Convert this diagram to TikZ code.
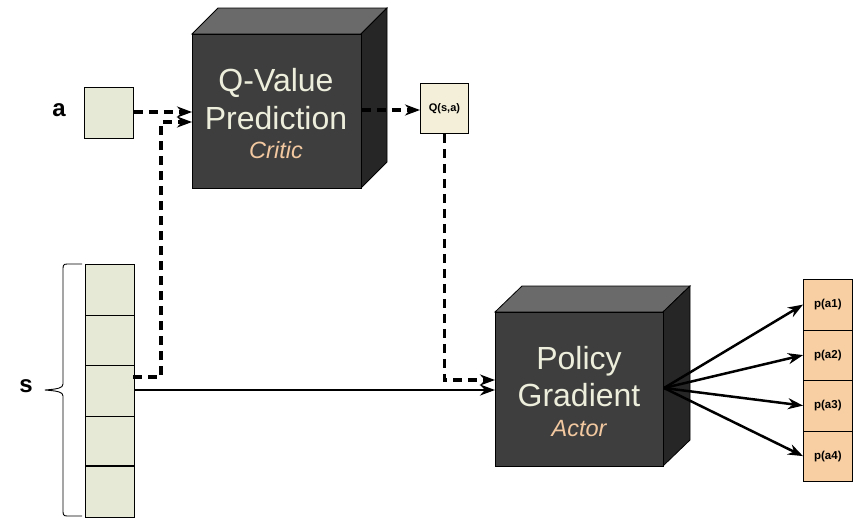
\documentclass[tikz,border=0pt]{standalone}
\usepackage{fontspec}
\setmainfont{Liberation Sans}
\usetikzlibrary{arrows.meta}
\definecolor{cubefront}{HTML}{3E3E3E}
\definecolor{cubetop}{HTML}{6A6A6A}
\definecolor{cubeside}{HTML}{262626}
\definecolor{cubetext}{HTML}{EEEEDC}
\definecolor{roletext}{HTML}{F2C8A0}
\definecolor{cellfill}{HTML}{E5E9D6}
\definecolor{qfill}{HTML}{F4EFD9}
\definecolor{pfill}{HTML}{F8CFA2}
\tikzset{
  cell/.style={draw=black, line width=0.9pt, fill=cellfill, minimum width=49pt, minimum height=50.5pt, inner sep=0pt, anchor=north west},
  pcell/.style={draw=black, line width=0.7pt, fill=pfill, minimum width=49pt, minimum height=50.5pt, inner sep=0pt, anchor=north west, font=\bfseries\fontsize{11.5}{12}\selectfont},
  qbox/.style={draw=black, line width=0.9pt, fill=qfill, minimum width=48pt, minimum height=50pt, inner sep=0pt, anchor=north west, font=\bfseries\fontsize{11}{12}\selectfont},
  cubefacefront/.style={fill=cubefront, draw=black, line width=0.8pt},
  cubefacetop/.style={fill=cubetop, draw=black, line width=0.8pt},
  cubefaceside/.style={fill=cubeside, draw=black, line width=0.8pt},
  bigtext/.style={text=cubetext, font=\fontsize{32}{38}\selectfont, align=center},
  roletxt/.style={text=roletext, font=\itshape\fontsize{23.5}{26}\selectfont},
  dasharrow/.style={line width=3.2pt, dash pattern=on 9pt off 6pt, -{Stealth[length=15pt,width=11pt]}},
  solidarrow/.style={line width=2.5pt, -{Stealth[length=15pt,width=11pt]}},
  lbl/.style={font=\bfseries\fontsize{24}{26}\selectfont}
}
\begin{document}
\begin{tikzpicture}[x=1pt,y=-1pt]
\useasboundingbox (0,0) rectangle (862,528);

% ---- Q-Value cube
\path[cubefacetop] (192,34) -- (218,8) -- (387,8) -- (361,34) -- cycle;
\path[cubefaceside] (361,34) -- (387,8) -- (387,162) -- (361,188) -- cycle;
\node[cubefacefront, minimum width=169pt, minimum height=154pt, inner sep=0pt, anchor=north west] (qcube) at (192,34) {};
\node[bigtext, anchor=base] (qtitle1) at (276,91) {Q-Value};
\node[bigtext, anchor=base] (qtitle2) at (276,129) {Prediction};
\node[roletxt, anchor=base] (qrole) at (276,158) {Critic};

% ---- Policy cube
\path[cubefacetop] (495,312) -- (522,286) -- (690,286) -- (663,312) -- cycle;
\path[cubefaceside] (663,312) -- (690,286) -- (690,440) -- (663,466) -- cycle;
\node[cubefacefront, minimum width=168pt, minimum height=154pt, inner sep=0pt, anchor=north west] (pcube) at (495,312) {};
\node[bigtext, anchor=base] (ptitle1) at (579,369) {Policy};
\node[bigtext, anchor=base] (ptitle2) at (579,406) {Gradient};
\node[roletxt, anchor=base] (prole) at (579,436) {Actor};

% ---- a input
\node[lbl] (alabel) at (59,110) {a};
\node[cell, minimum height=51pt] (abox) at (84,87) {};

% ---- Q(s,a)
\node[qbox] (qsa) at (420,83) {Q(s,a)};

% ---- state column
\node[cell] (s1) at (85,264) {};
\node[cell] (s2) at (85,314.5) {};
\node[cell] (s3) at (85,365) {};
\node[cell] (s4) at (85,415.5) {};
\node[cell] (s5) at (85,466) {};
\draw[line width=1.6pt] (s5.north west) -- (s5.north east);
\draw[line width=0.9pt, line join=round]
  (82,264) -- (67,264) .. controls (63,264) and (63,266) .. (63,270) -- (63,384)
  .. controls (63,388) and (58,389) .. (45,390)
  .. controls (58,391) and (63,392) .. (63,396) -- (63,510)
  .. controls (63,514) and (63,516) .. (67,516) -- (82,516);
\node[lbl] (slabel) at (26,386) {s};

% ---- action probabilities
\node[pcell] (p1) at (803,279) {p(a1)};
\node[pcell] (p2) at (803,329.5) {p(a2)};
\node[pcell] (p3) at (803,380) {p(a3)};
\node[pcell] (p4) at (803,430.5) {p(a4)};

% ---- connectors
\coordinate (qin1) at (qcube.west |- 0,112);
\coordinate (qin2) at (qcube.west |- 0,122);
\draw[dasharrow] (abox.east |- 0,112) -- (qin1);
\coordinate (sup1) at (133,377);
\coordinate (sup2) at (161,377);
\coordinate (sup3) at (161,122);
\draw[dasharrow] (sup1) -- (sup2) -- (sup3) -- (qin2);

\coordinate (qout) at (qcube.east |- 0,110);
\draw[dasharrow] (qout) -- (qsa.west |- qout);

\coordinate (qdown) at (qsa.south |- 0,380);
\draw[dasharrow] (qsa.south) -- (qdown) -- (pcube.west |- qdown);

\draw[solidarrow] (s3.east |- 0,390) -- (pcube.west |- 0,390);

\coordinate (pout) at (664,388);
\foreach \i in {1,2,3,4} {
  \draw[solidarrow] (pout) -- (p\i.west);
}
\end{tikzpicture}
\end{document}
